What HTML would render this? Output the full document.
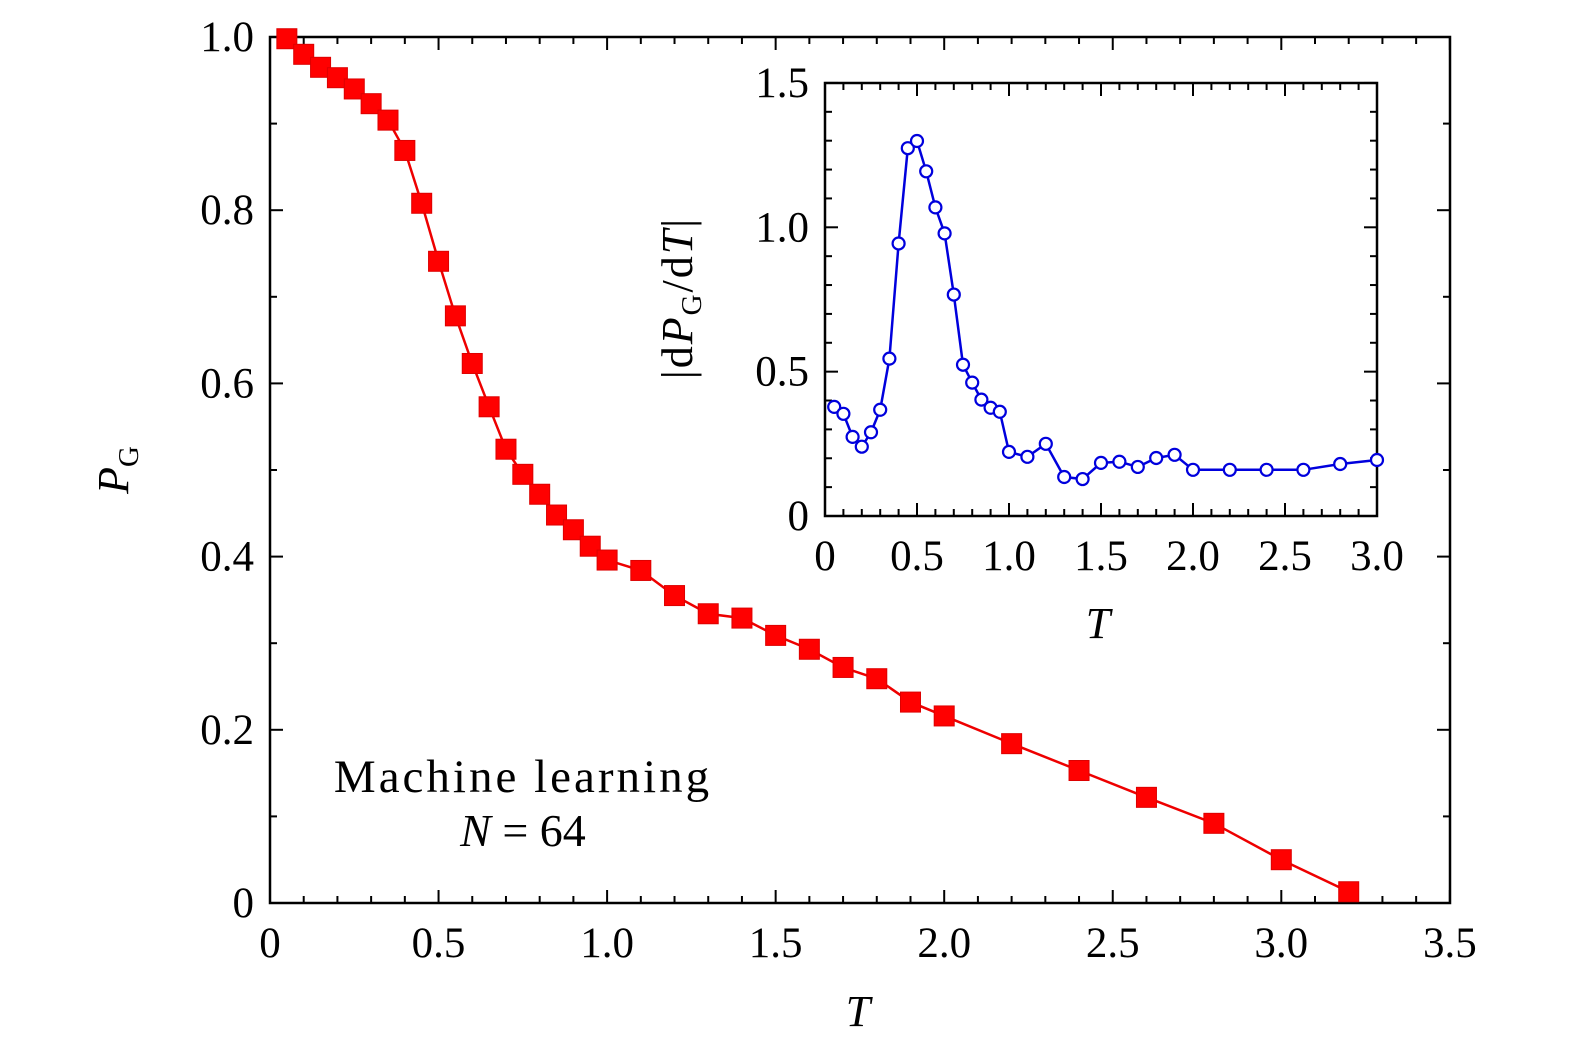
<!DOCTYPE html>
<html><head><meta charset="utf-8"><style>
html,body{margin:0;padding:0;background:#fff;overflow:hidden;width:1575px;height:1053px;}
svg{display:block;}
svg text{font-family:"Liberation Serif","DejaVu Serif",serif;fill:#000;font-weight:normal;}
</style></head><body>
<svg id="chart" width="1575" height="1053" xmlns="http://www.w3.org/2000/svg"></svg>
<script>
const mainT=[0.05,0.1,0.15,0.2,0.25,0.3,0.35,0.4,0.45,0.5,0.55,0.6,0.65,0.7,0.75,0.8,0.85,0.9,0.95,1.0,1.1,1.2,1.3,1.4,1.5,1.6,1.7,1.8,1.9,2.0,2.2,2.4,2.6,2.8,3.0,3.2];
const mainPG=[0.998,0.980,0.965,0.953,0.940,0.923,0.904,0.869,0.808,0.741,0.678,0.623,0.573,0.524,0.495,0.472,0.448,0.431,0.412,0.396,0.384,0.355,0.334,0.329,0.309,0.293,0.272,0.259,0.232,0.216,0.184,0.153,0.122,0.092,0.050,0.013];
const insetT=[0.05,0.1,0.15,0.2,0.25,0.3,0.35,0.4,0.45,0.5,0.55,0.6,0.65,0.7,0.75,0.8,0.85,0.9,0.95,1.0,1.1,1.2,1.3,1.4,1.5,1.6,1.7,1.8,1.9,2.0,2.2,2.4,2.6,2.8,3.0];
const insetD=[0.378,0.354,0.274,0.24,0.29,0.368,0.545,0.944,1.274,1.299,1.194,1.069,0.979,0.767,0.524,0.462,0.403,0.375,0.361,0.222,0.205,0.25,0.135,0.128,0.184,0.188,0.170,0.201,0.212,0.160,0.160,0.160,0.160,0.180,0.194];
const mainXTicks=["0","0.5","1.0","1.5","2.0","2.5","3.0","3.5"];
const mainYTicks=["0","0.2","0.4","0.6","0.8","1.0"];
const insetXTicks=["0","0.5","1.0","1.5","2.0","2.5","3.0"];
const insetYTicks=["0","0.5","1.0","1.5"];

const svg=document.getElementById('chart');
const NS="http://www.w3.org/2000/svg";
function mk(tag,attrs,parent){const e=document.createElementNS(NS,tag);for(const k in attrs)e.setAttribute(k,attrs[k]);(parent||svg).appendChild(e);return e;}

const mx=v=>270+v*337.1, my=v=>903-v*866;
const ix=v=>825+v*184, iy=v=>516-v*288.7;

function axes(name,x0,y0,x1,y1,xs,ys,xmaxV,ymaxV,xMinStep,yMinStep,xMajStep,yMajStep,xl,yl,fs){
  const g=mk('g',{});
  
  
  mk('rect',{x:x0,y:y1,width:x1-x0,height:y0-y1,fill:'none',stroke:'#000','stroke-width':2.5},g);
  for(let i=0;i<=Math.round(xmaxV/xMinStep);i++){
    const v=i*xMinStep,X=xs(v),maj=Math.abs(v/xMajStep-Math.round(v/xMajStep))<1e-6,L=maj?13:7;
    mk('line',{x1:X,y1:y0,x2:X,y2:y0-L,stroke:'#000','stroke-width':2},g);
    mk('line',{x1:X,y1:y1,x2:X,y2:y1+L,stroke:'#000','stroke-width':2},g);
  }
  for(let i=0;i<=Math.round(ymaxV/yMinStep);i++){
    const v=i*yMinStep,Y=ys(v),maj=Math.abs(v/yMajStep-Math.round(v/yMajStep))<1e-6,L=maj?13:7;
    mk('line',{x1:x0,y1:Y,x2:x0+L,y2:Y,stroke:'#000','stroke-width':2},g);
    mk('line',{x1:x1,y1:Y,x2:x1-L,y2:Y,stroke:'#000','stroke-width':2},g);
  }
  xl.forEach((t,i)=>{const e=mk('text',{x:xs(i*xMajStep),y:y0+54,'text-anchor':'middle','font-size':fs},g);e.textContent=t;});
  yl.forEach((t,i)=>{const e=mk('text',{x:x0-16,y:ys(i*yMajStep)+14,'text-anchor':'end','font-size':fs},g);e.textContent=t;});
  return g;
}
axes('main-axes',270,903,1450,37,mx,my,3.5,1.0,0.1,0.1,0.5,0.2,mainXTicks,mainYTicks,43);
axes('inset-axes',825,516,1377,83,ix,iy,3.0,1.5,0.1,0.1,0.5,0.5,insetXTicks,insetYTicks,43);

let d=mainT.map((t,i)=>(i?'L':'M')+mx(t)+','+my(mainPG[i])).join(' ');
const ml=mk('path',{d:d,fill:'none',stroke:'#e00','stroke-width':2.5});


mainT.forEach((t,i)=>{
  const r=mk('rect',{x:mx(t)-10,y:my(mainPG[i])-10,width:20,height:20,fill:'#f00',stroke:'#d00','stroke-width':1});
  
  
});
d=insetT.map((t,i)=>(i?'L':'M')+ix(t)+','+iy(insetD[i])).join(' ');
const il=mk('path',{d:d,fill:'none',stroke:'#00d','stroke-width':2.5});


insetT.forEach((t,i)=>{
  const c=mk('circle',{cx:ix(t),cy:iy(insetD[i]),r:6,fill:'#fff',stroke:'#00d','stroke-width':2.2});
  
  
});
</script>
<svg style="position:absolute;left:0;top:0" width="1575" height="1053" xmlns="http://www.w3.org/2000/svg">
<text x="858" y="1026" font-size="44" font-style="italic" text-anchor="middle">T</text>
<text transform="translate(128,470) rotate(-90)" font-size="44" text-anchor="middle"><tspan font-style="italic">P</tspan><tspan font-size="29" dy="10">G</tspan></text>
<text x="1098" y="638" font-size="44" font-style="italic" text-anchor="middle">T</text>
<text transform="translate(692,298) rotate(-90)" font-size="44" text-anchor="middle" letter-spacing="2">|d<tspan font-style="italic">P</tspan><tspan font-size="29" dy="9">G</tspan><tspan dy="-9">/d</tspan><tspan font-style="italic">T</tspan>|</text>
<text x="523" y="792" font-size="47" text-anchor="middle" letter-spacing="3">Machine learning</text>
<text x="523" y="846" font-size="46" text-anchor="middle"><tspan font-style="italic">N</tspan> = 64</text>
</svg>
</body></html>
